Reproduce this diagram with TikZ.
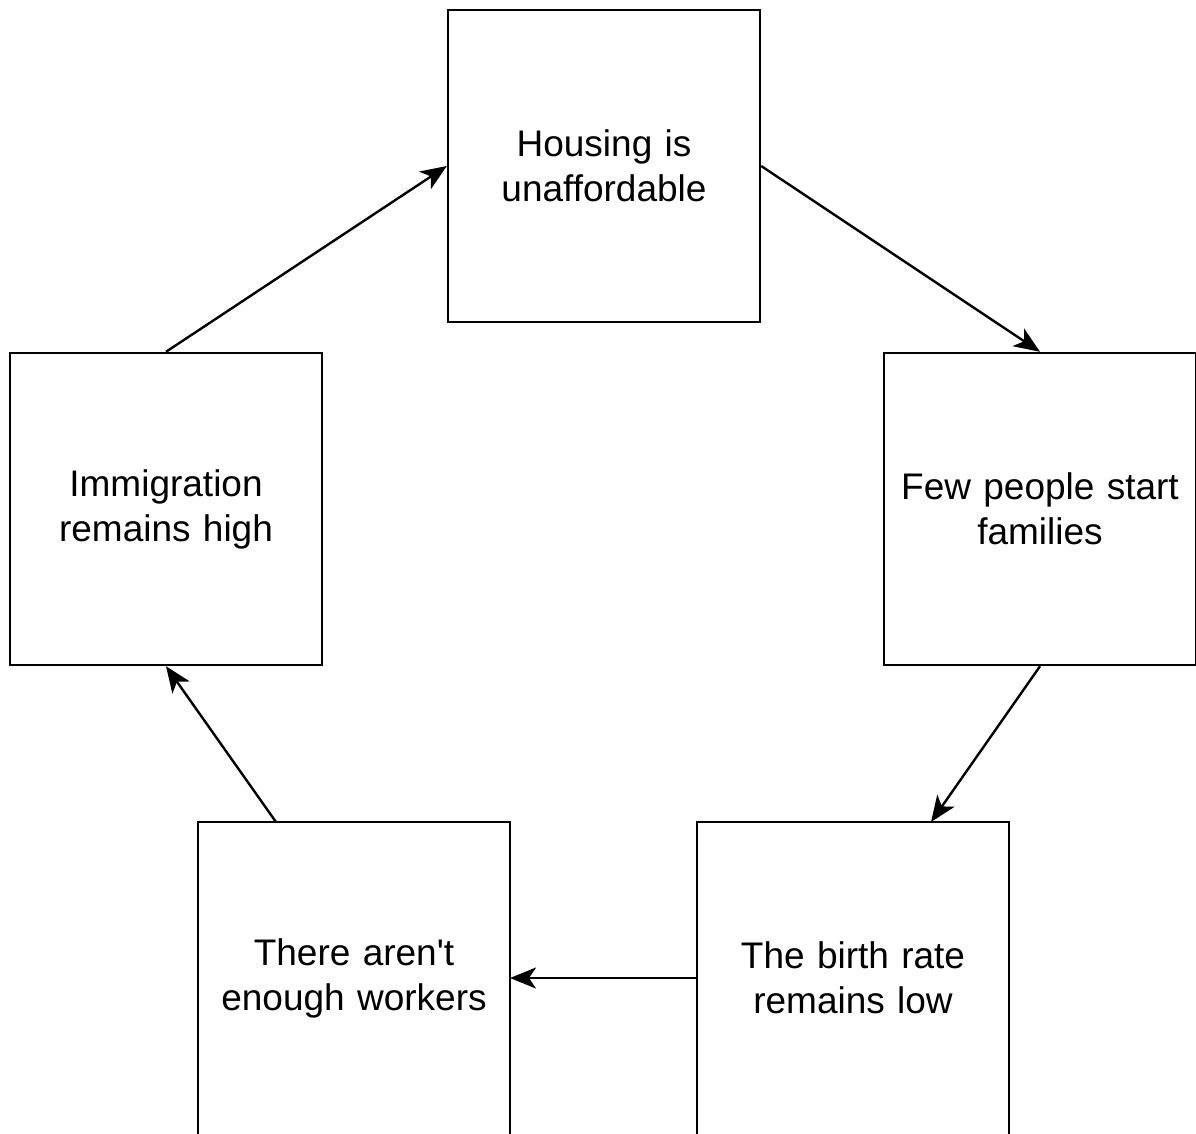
\documentclass[tikz,border=0pt]{standalone}
\usepackage{fontspec}
\setmainfont{Liberation Sans}
\usetikzlibrary{arrows.meta,calc}
\tikzset{
  boxline/.style={draw=black, line width=2.4pt},
  box/.style={boxline, minimum width=312pt, minimum height=312pt, inner sep=0pt,
    align=center, text width=300pt, font=\fontsize{37}{45}\selectfont},
  cutbox/.style={box, draw=none, outer sep=0pt},
  conn/.style={line width=2.4pt, -{Stealth[length=26pt,width=21pt,inset=7pt]}}
}
\begin{document}
\begin{tikzpicture}[x=1pt,y=-1pt]
\useasboundingbox (0,0) rectangle (1196,1133);
\clip (0,0) rectangle (1196,1133);
\fill[white] (0,0) rectangle (1196,1133);
\node[box] (top) at (604,166) {Housing is\\unaffordable};
\node[box] (right) at (1040,509) {Few people start\\families};
\node[box] (left) at (166,509) {Immigration\\remains high};
\node[cutbox] (br) at (853,978) {The birth rate\\remains low};
\node[cutbox] (bl) at (354,978) {There aren\textquotesingle t\\enough workers};
\draw[boxline] ([yshift=-10pt]br.south west) |- (br.north east) -- ([yshift=-10pt]br.south east);
\draw[boxline] ([yshift=-10pt]bl.south west) |- (bl.north east) -- ([yshift=-10pt]bl.south east);
\coordinate (brin) at ($(br.north west)!0.75!(br.north east)$);
\coordinate (blout) at ($(bl.north west)!0.25!(bl.north east)$);
\draw[conn] (left.north) -- (top.west);
\draw[conn] (top.east) -- (right.north);
\draw[conn] (right.south) -- (brin);
\draw[conn] (br.west) -- (bl.east);
\draw[conn] (blout) -- (left.south);
\end{tikzpicture}
\end{document}
